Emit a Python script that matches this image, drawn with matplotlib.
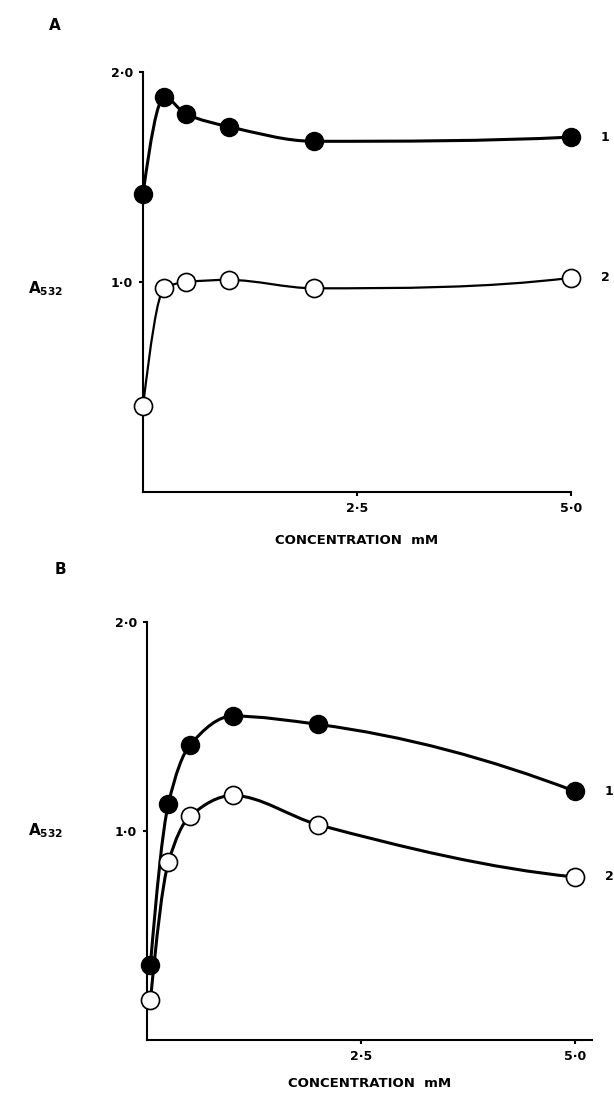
import numpy as np
import matplotlib
matplotlib.use("Agg")
import matplotlib.pyplot as plt
import matplotlib.transforms as mtransforms
from matplotlib.path import Path
from matplotlib.patches import PathPatch

plt.rcParams['font.family'] = ['DejaVu Sans']
plt.rcParams['font.weight'] = 'bold'

# concentration (mM) and A532 readings for the two panels
a_conc = [0.0, 0.25, 0.5, 1.0, 2.0, 5.0]
a_series1 = [1.42, 1.88, 1.80, 1.74, 1.67, 1.69]
a_series2 = [0.41, 0.97, 1.00, 1.01, 0.97, 1.02]

b_conc = [0.04, 0.25, 0.5, 1.0, 2.0, 5.0]
b_series1 = [0.36, 1.13, 1.41, 1.55, 1.51, 1.19]
b_series2 = [0.19, 0.85, 1.07, 1.17, 1.03, 0.78]

x_ticks = [2.5, 5.0]
x_ticklabels = ['2·5', '5·0']
y_ticks = [1.0, 2.0]
y_ticklabels = ['1·0', '2·0']

W, H = 614, 1099


def tangents(x, y):
    # monotone (Fritsch-Carlson) slopes so the drawn line has no overshoot
    h = np.diff(x)
    d = np.diff(y) / h
    m = np.zeros_like(y)
    for k in range(1, len(x) - 1):
        if d[k - 1] * d[k] > 0:
            w1 = 2 * h[k] + h[k - 1]
            w2 = h[k] + 2 * h[k - 1]
            m[k] = (w1 + w2) / (w1 / d[k - 1] + w2 / d[k])
    for k, (h0, h1, d0, d1) in [(0, (h[0], h[1], d[0], d[1])),
                                (-1, (h[-1], h[-2], d[-1], d[-2]))]:
        e = ((2 * h0 + h1) * d0 - h0 * d1) / (h0 + h1)
        if np.sign(e) != np.sign(d0):
            e = 0.0
        elif np.sign(d0) != np.sign(d1) and abs(e) > 3 * abs(d0):
            e = 3 * d0
        m[k] = e
    return m


def smooth_curve(ax, x, y, lw):
    x = np.asarray(x, float)
    y = np.asarray(y, float)
    m = tangents(x, y)
    verts = [(x[0], y[0])]
    codes = [Path.MOVETO]
    for i in range(len(x) - 1):
        h = x[i + 1] - x[i]
        verts += [(x[i] + h / 3, y[i] + m[i] * h / 3),
                  (x[i + 1] - h / 3, y[i + 1] - m[i + 1] * h / 3),
                  (x[i + 1], y[i + 1])]
        codes += [Path.CURVE4] * 3
    ax.add_patch(PathPatch(Path(verts, codes), fill=False, lw=lw,
                           edgecolor='black', zorder=2, clip_on=False))


def panel(rect, conc, s1, s2, xmax, lw2):
    ax = fig.add_axes(rect)
    ax.set_xlim(0, xmax)
    ax.set_ylim(0, 2.0)
    for side in ['top', 'right']:
        ax.spines[side].set_visible(False)
    for side in ['left', 'bottom']:
        ax.spines[side].set_linewidth(1.5)
    ax.spines['left'].set_bounds(0, 2.0)
    ax.set_xticks(x_ticks)
    ax.set_xticklabels(x_ticklabels)
    ax.set_yticks(y_ticks)
    ax.set_yticklabels(y_ticklabels)
    ax.tick_params(direction='out', length=3, width=1.5, labelsize=9,
                   pad=4)
    ax.patch.set_alpha(0)

    smooth_curve(ax, conc, s1, 2.2)
    smooth_curve(ax, conc, s2, lw2)
    ax.plot(conc, s1, 'o', ms=13, color='black', zorder=3, clip_on=False)
    ax.plot(conc, s2, 'o', ms=13, mfc='white', mec='black', mew=1.2,
            zorder=3, clip_on=False)
    ax.text(conc[-1] + 0.35, s1[-1], '1', fontsize=9, fontweight='bold',
            va='center', ha='left')
    ax.text(conc[-1] + 0.35, s2[-1], '2', fontsize=9, fontweight='bold',
            va='center', ha='left')
    return ax


fig = plt.figure(figsize=(W / 100, H / 100), dpi=100)


def rect(x0, x1, y0, y1):
    return [x0 / W, 1 - y0 / H, (x1 - x0) / W, (y0 - y1) / H]


# panel A: x 0..5 spans px 143..571, y 0..2 spans px 492..72
ax_a = panel(rect(143, 571, 492, 72), a_conc, a_series1, a_series2, 5.0, 1.6)
# panel B: x 0..5.2 spans px 147..592, y 0..2 spans px 1040..622
ax_b = panel(rect(147, 592, 1040, 622), b_conc, b_series1, b_series2, 5.2, 2.2)

fig.text(55 / W, 1 - 25 / H, 'A', fontsize=11, fontweight='bold',
         ha='center', va='center')
fig.text(60 / W, 1 - 570 / H, 'B', fontsize=11, fontweight='bold',
         ha='center', va='center')

for ax, yv, pad in [(ax_a, 0.97, 14), (ax_b, 1.0, 10)]:
    ax.text(46 / W, yv, r'A$_{\mathbf{532}}$',
            transform=mtransforms.blended_transform_factory(
                fig.transFigure, ax.transData),
            fontsize=11, fontweight='bold', ha='center', va='center')
    ax.set_xlabel('CONCENTRATION  mM', fontsize=9.5, fontweight='bold',
                  labelpad=pad)

fig.savefig('out.png', dpi=100)
